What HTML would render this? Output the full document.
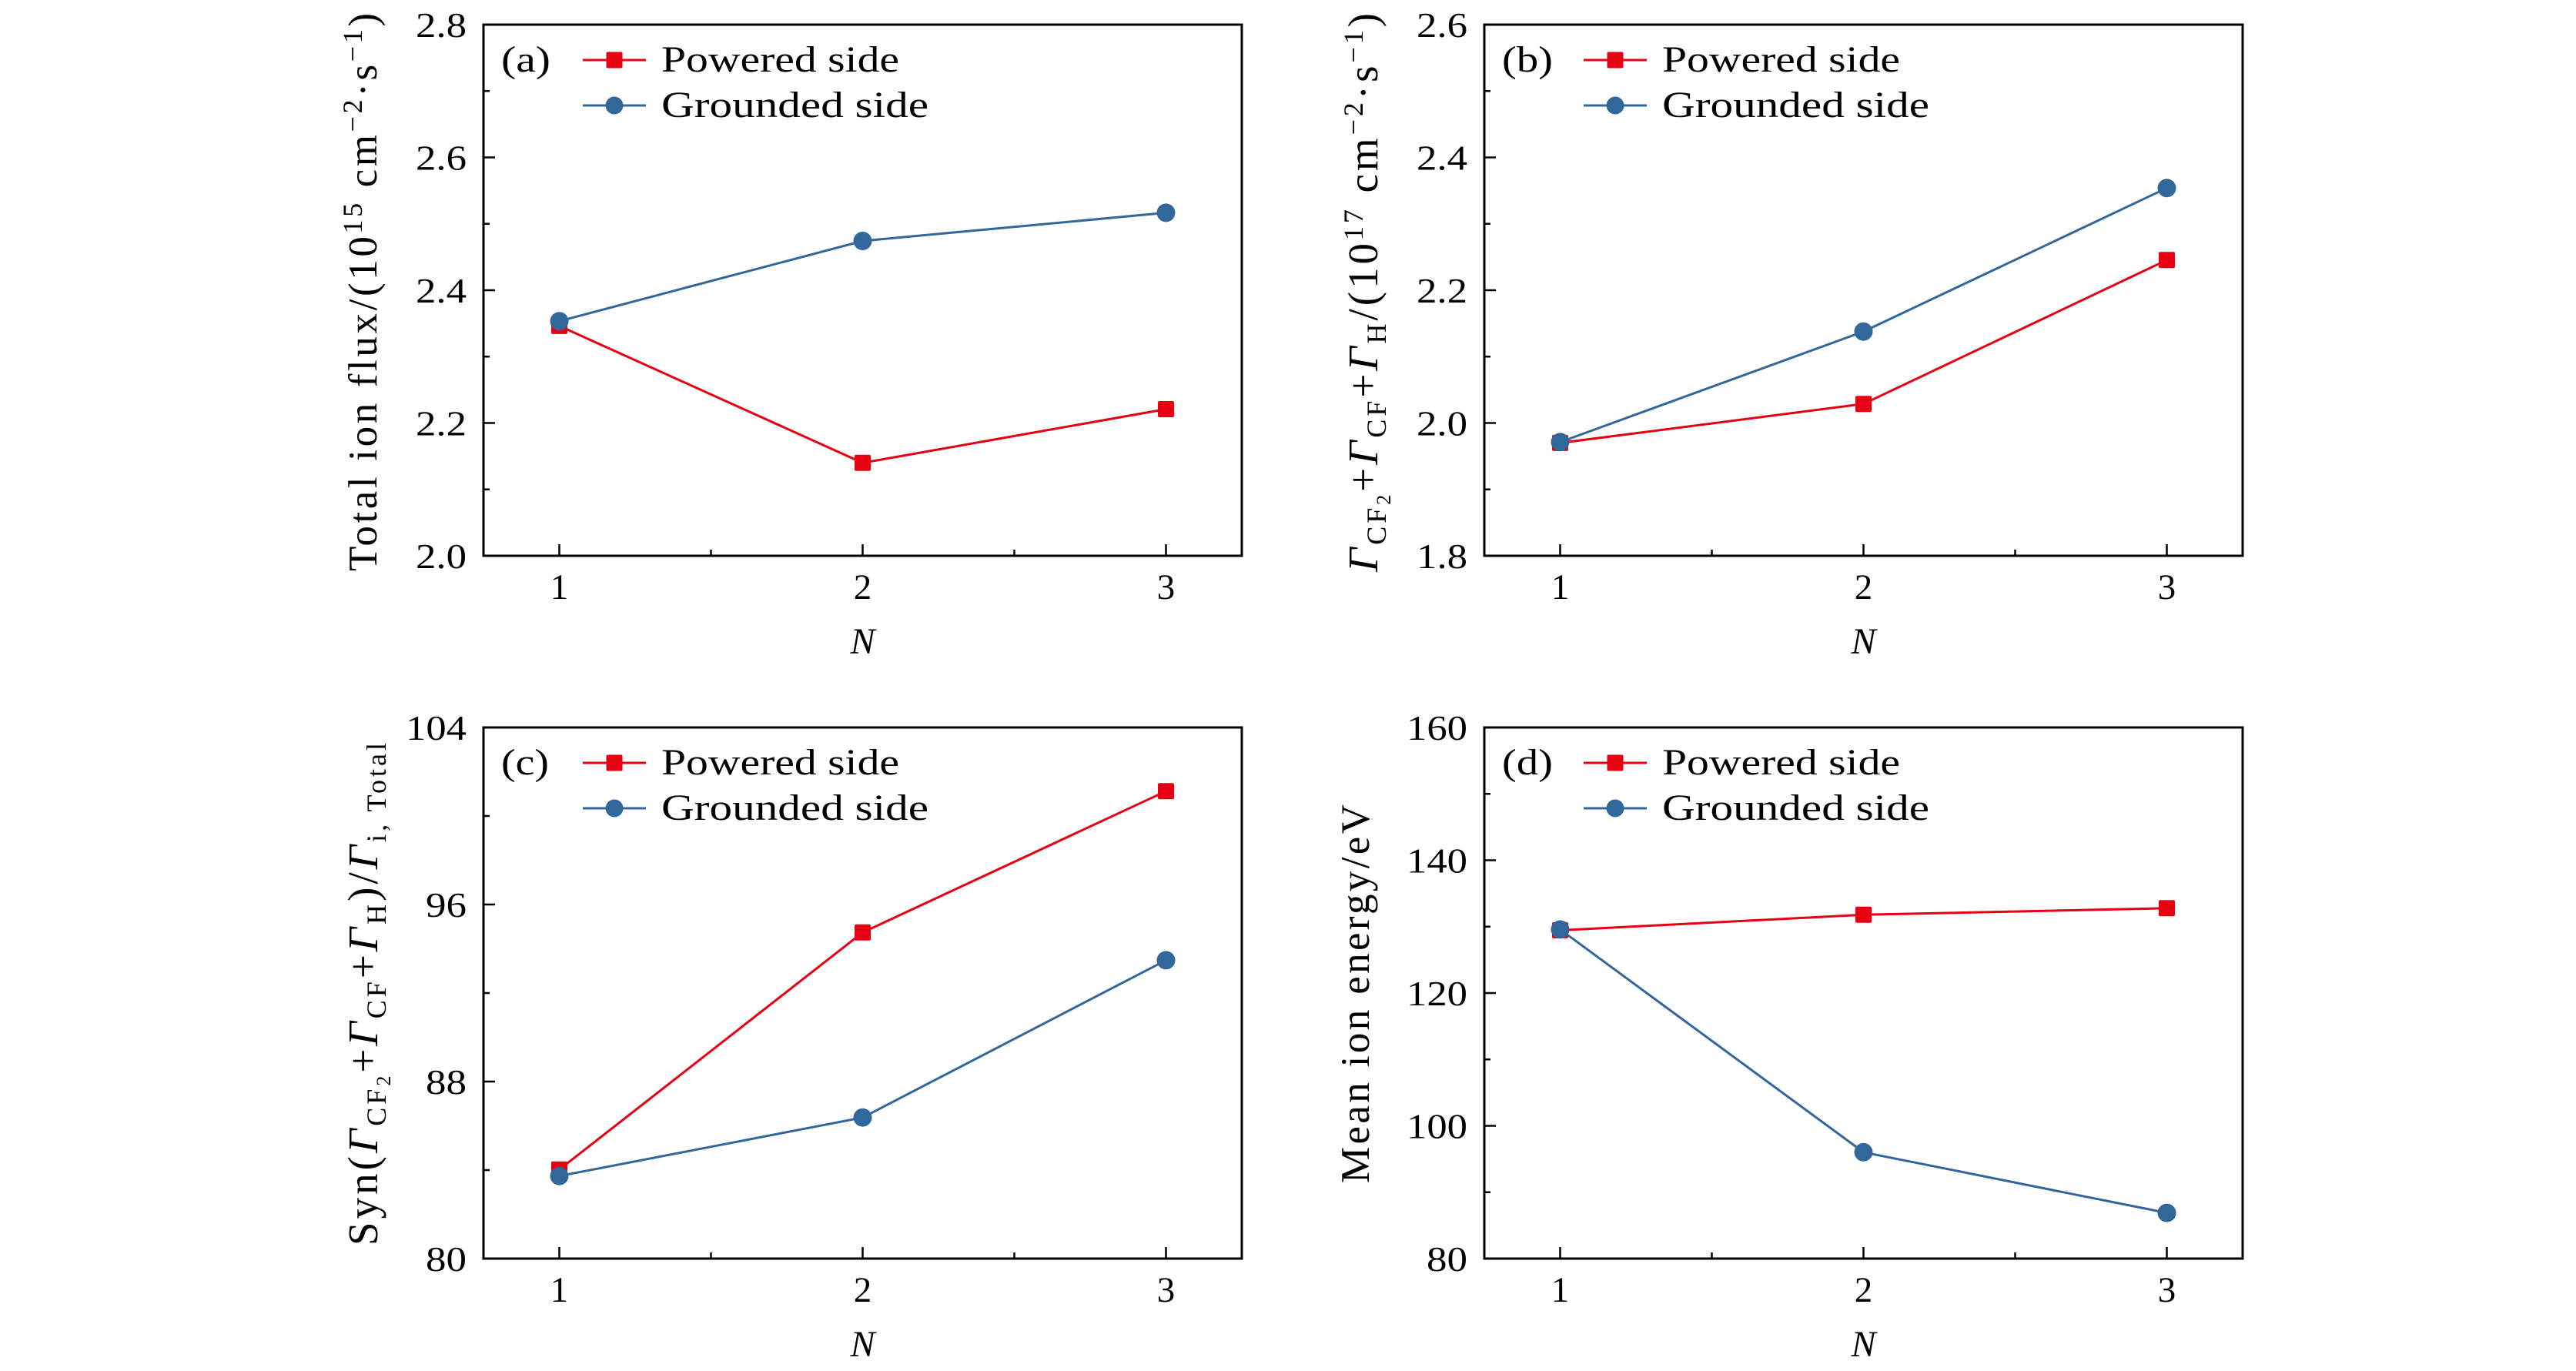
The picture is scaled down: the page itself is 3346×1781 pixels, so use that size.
<!DOCTYPE html>
<html><head><meta charset="utf-8"><style>
html,body{margin:0;padding:0;background:#fff;}
svg{display:block;}
text{font-family:"Liberation Serif","DejaVu Serif",serif;fill:#000;}
</style></head><body>
<svg xmlns="http://www.w3.org/2000/svg" width="3346" height="1781" viewBox="0 0 3346 1781">
<rect width="3346" height="1781" fill="#fff"/>

<!-- Panel (a) -->
<g transform="translate(628,32)">
<rect x="0" y="0" width="985" height="690" fill="none" stroke="#000" stroke-width="3"/>
<path d="M98.5 690V675M492.5 690V675M886.5 690V675M295.5 690V682M689.5 690V682M0 172.5H15M0 345H15M0 517.5H15M0 86.25H8M0 258.75H8M0 431.25H8M0 603.75H8" stroke="#000" stroke-width="2.5" fill="none"/>
<g font-size="46" text-anchor="end">
<text x="-22" y="16" textLength="66" lengthAdjust="spacingAndGlyphs">2.8</text>
<text x="-22" y="188.5" textLength="66" lengthAdjust="spacingAndGlyphs">2.6</text>
<text x="-22" y="361" textLength="66" lengthAdjust="spacingAndGlyphs">2.4</text>
<text x="-22" y="533.5" textLength="66" lengthAdjust="spacingAndGlyphs">2.2</text>
<text x="-22" y="706" textLength="66" lengthAdjust="spacingAndGlyphs">2.0</text>
</g>
<g font-size="47" text-anchor="middle">
<text x="98.5" y="746">1</text><text x="492.5" y="746">2</text><text x="886.5" y="746">3</text>
</g>
<text x="492.5" y="817" font-size="48" font-style="italic" text-anchor="middle">N</text>
<text transform="translate(-139,347.5) rotate(-90)" text-anchor="middle" font-size="53" textLength="725" lengthAdjust="spacing">Total ion flux/(10<tspan dy="-19" font-size="36">15</tspan><tspan dy="19"> cm</tspan><tspan dy="-19" font-size="36">−2</tspan><tspan dy="19">·s</tspan><tspan dy="-19" font-size="36">−1</tspan><tspan dy="19">)</tspan></text>
<text x="23" y="61" font-size="48" textLength="64" lengthAdjust="spacingAndGlyphs">(a)</text>
<line x1="129" y1="46" x2="211" y2="46" stroke="#e60012" stroke-width="3"/>
<rect x="159.5" y="35.5" width="21" height="21" rx="2" fill="#e60012"/>
<line x1="129" y1="105" x2="211" y2="105" stroke="#32679b" stroke-width="3"/>
<circle cx="170" cy="105" r="11.5" fill="#32679b"/>
<text x="231" y="61" font-size="48" textLength="309" lengthAdjust="spacingAndGlyphs">Powered side</text>
<text x="231" y="120" font-size="48" textLength="347" lengthAdjust="spacingAndGlyphs">Grounded side</text>
<polyline points="98.5,391.4 492.5,569.3 886.5,499.5" fill="none" stroke="#e60012" stroke-width="3"/>
<g fill="#e60012"><rect x="88" y="380.9" width="21" height="21" rx="2"/><rect x="482" y="558.8" width="21" height="21" rx="2"/><rect x="876" y="489" width="21" height="21" rx="2"/></g>
<polyline points="98.5,385.2 492.5,281 886.5,244.4" fill="none" stroke="#32679b" stroke-width="3"/>
<g fill="#32679b"><circle cx="98.5" cy="385.2" r="12"/><circle cx="492.5" cy="281" r="12"/><circle cx="886.5" cy="244.4" r="12"/></g>
</g>

<!-- Panel (b) -->
<g transform="translate(1928,32)">
<rect x="0" y="0" width="985" height="690" fill="none" stroke="#000" stroke-width="3"/>
<path d="M98.5 690V675M492.5 690V675M886.5 690V675M295.5 690V682M689.5 690V682M0 172.5H15M0 345H15M0 517.5H15M0 86.25H8M0 258.75H8M0 431.25H8M0 603.75H8" stroke="#000" stroke-width="2.5" fill="none"/>
<g font-size="46" text-anchor="end">
<text x="-22" y="16" textLength="66" lengthAdjust="spacingAndGlyphs">2.6</text>
<text x="-22" y="188.5" textLength="66" lengthAdjust="spacingAndGlyphs">2.4</text>
<text x="-22" y="361" textLength="66" lengthAdjust="spacingAndGlyphs">2.2</text>
<text x="-22" y="533.5" textLength="66" lengthAdjust="spacingAndGlyphs">2.0</text>
<text x="-22" y="706" textLength="66" lengthAdjust="spacingAndGlyphs">1.8</text>
</g>
<g font-size="47" text-anchor="middle">
<text x="98.5" y="746">1</text><text x="492.5" y="746">2</text><text x="886.5" y="746">3</text>
</g>
<text x="492.5" y="817" font-size="48" font-style="italic" text-anchor="middle">N</text>
<text transform="translate(-139,348) rotate(-90)" text-anchor="middle" font-size="55" textLength="726" lengthAdjust="spacing"><tspan font-style="italic">Γ</tspan><tspan dy="11" font-size="36">CF</tspan><tspan dy="6" font-size="26">2</tspan><tspan dy="-17">+</tspan><tspan font-style="italic">Γ</tspan><tspan dy="11" font-size="36">CF</tspan><tspan dy="-11">+</tspan><tspan font-style="italic">Γ</tspan><tspan dy="11" font-size="36">H</tspan><tspan dy="-11">/(10</tspan><tspan dy="-19" font-size="36">17</tspan><tspan dy="19"> cm</tspan><tspan dy="-19" font-size="36">−2</tspan><tspan dy="19">·s</tspan><tspan dy="-19" font-size="36">−1</tspan><tspan dy="19">)</tspan></text>
<text x="23" y="61" font-size="48" textLength="66" lengthAdjust="spacingAndGlyphs">(b)</text>
<line x1="129" y1="46" x2="211" y2="46" stroke="#e60012" stroke-width="3"/>
<rect x="159.5" y="35.5" width="21" height="21" rx="2" fill="#e60012"/>
<line x1="129" y1="105" x2="211" y2="105" stroke="#32679b" stroke-width="3"/>
<circle cx="170" cy="105" r="11.5" fill="#32679b"/>
<text x="231" y="61" font-size="48" textLength="309" lengthAdjust="spacingAndGlyphs">Powered side</text>
<text x="231" y="120" font-size="48" textLength="347" lengthAdjust="spacingAndGlyphs">Grounded side</text>
<polyline points="98.5,543.4 492.5,492.7 886.5,305.8" fill="none" stroke="#e60012" stroke-width="3"/>
<g fill="#e60012"><rect x="88" y="532.9" width="21" height="21" rx="2"/><rect x="482" y="482.2" width="21" height="21" rx="2"/><rect x="876" y="295.3" width="21" height="21" rx="2"/></g>
<polyline points="98.5,542.3 492.5,398.7 886.5,212.3" fill="none" stroke="#32679b" stroke-width="3"/>
<g fill="#32679b"><circle cx="98.5" cy="542.3" r="12"/><circle cx="492.5" cy="398.7" r="12"/><circle cx="886.5" cy="212.3" r="12"/></g>
</g>

<!-- Panel (c) -->
<g transform="translate(628,945)">
<rect x="0" y="0" width="985" height="690" fill="none" stroke="#000" stroke-width="3"/>
<path d="M98.5 690V675M492.5 690V675M886.5 690V675M295.5 690V682M689.5 690V682M0 230H15M0 460H15M0 115H8M0 345H8M0 575H8" stroke="#000" stroke-width="2.5" fill="none"/>
<g font-size="46" text-anchor="end">
<text x="-22" y="16" textLength="79" lengthAdjust="spacingAndGlyphs">104</text>
<text x="-22" y="246" textLength="53" lengthAdjust="spacingAndGlyphs">96</text>
<text x="-22" y="476" textLength="53" lengthAdjust="spacingAndGlyphs">88</text>
<text x="-22" y="706" textLength="53" lengthAdjust="spacingAndGlyphs">80</text>
</g>
<g font-size="47" text-anchor="middle">
<text x="98.5" y="746">1</text><text x="492.5" y="746">2</text><text x="886.5" y="746">3</text>
</g>
<text x="492.5" y="817" font-size="48" font-style="italic" text-anchor="middle">N</text>
<text transform="translate(-138,346.5) rotate(-90)" text-anchor="middle" font-size="55" textLength="653" lengthAdjust="spacing">Syn(<tspan font-style="italic">Γ</tspan><tspan dy="11" font-size="36">CF</tspan><tspan dy="6" font-size="26">2</tspan><tspan dy="-17">+</tspan><tspan font-style="italic">Γ</tspan><tspan dy="11" font-size="36">CF</tspan><tspan dy="-11">+</tspan><tspan font-style="italic">Γ</tspan><tspan dy="11" font-size="36">H</tspan><tspan dy="-11">)/</tspan><tspan font-style="italic">Γ</tspan><tspan dy="11" font-size="36">i, Total</tspan></text>
<text x="23" y="61" font-size="48" textLength="62" lengthAdjust="spacingAndGlyphs">(c)</text>
<line x1="129" y1="46" x2="211" y2="46" stroke="#e60012" stroke-width="3"/>
<rect x="159.5" y="35.5" width="21" height="21" rx="2" fill="#e60012"/>
<line x1="129" y1="105" x2="211" y2="105" stroke="#32679b" stroke-width="3"/>
<circle cx="170" cy="105" r="11.5" fill="#32679b"/>
<text x="231" y="61" font-size="48" textLength="309" lengthAdjust="spacingAndGlyphs">Powered side</text>
<text x="231" y="120" font-size="48" textLength="347" lengthAdjust="spacingAndGlyphs">Grounded side</text>
<polyline points="98.5,574.3 492.5,266.3 886.5,82.8" fill="none" stroke="#e60012" stroke-width="3"/>
<g fill="#e60012"><rect x="88" y="563.8" width="21" height="21" rx="2"/><rect x="482" y="255.8" width="21" height="21" rx="2"/><rect x="876" y="72.3" width="21" height="21" rx="2"/></g>
<polyline points="98.5,582.7 492.5,506.7 886.5,302.4" fill="none" stroke="#32679b" stroke-width="3"/>
<g fill="#32679b"><circle cx="98.5" cy="582.7" r="12"/><circle cx="492.5" cy="506.7" r="12"/><circle cx="886.5" cy="302.4" r="12"/></g>
</g>

<!-- Panel (d) -->
<g transform="translate(1928,945)">
<rect x="0" y="0" width="985" height="690" fill="none" stroke="#000" stroke-width="3"/>
<path d="M98.5 690V675M492.5 690V675M886.5 690V675M295.5 690V682M689.5 690V682M0 172.5H15M0 345H15M0 517.5H15M0 86.25H8M0 258.75H8M0 431.25H8M0 603.75H8" stroke="#000" stroke-width="2.5" fill="none"/>
<g font-size="46" text-anchor="end">
<text x="-22" y="16" textLength="79" lengthAdjust="spacingAndGlyphs">160</text>
<text x="-22" y="188.5" textLength="79" lengthAdjust="spacingAndGlyphs">140</text>
<text x="-22" y="361" textLength="79" lengthAdjust="spacingAndGlyphs">120</text>
<text x="-22" y="533.5" textLength="79" lengthAdjust="spacingAndGlyphs">100</text>
<text x="-22" y="706" textLength="53" lengthAdjust="spacingAndGlyphs">80</text>
</g>
<g font-size="47" text-anchor="middle">
<text x="98.5" y="746">1</text><text x="492.5" y="746">2</text><text x="886.5" y="746">3</text>
</g>
<text x="492.5" y="817" font-size="48" font-style="italic" text-anchor="middle">N</text>
<text transform="translate(-150,346) rotate(-90)" text-anchor="middle" font-size="53" textLength="492" lengthAdjust="spacing">Mean ion energy/eV</text>
<text x="23" y="61" font-size="48" textLength="66" lengthAdjust="spacingAndGlyphs">(d)</text>
<line x1="129" y1="46" x2="211" y2="46" stroke="#e60012" stroke-width="3"/>
<rect x="159.5" y="35.5" width="21" height="21" rx="2" fill="#e60012"/>
<line x1="129" y1="105" x2="211" y2="105" stroke="#32679b" stroke-width="3"/>
<circle cx="170" cy="105" r="11.5" fill="#32679b"/>
<text x="231" y="61" font-size="48" textLength="309" lengthAdjust="spacingAndGlyphs">Powered side</text>
<text x="231" y="120" font-size="48" textLength="347" lengthAdjust="spacingAndGlyphs">Grounded side</text>
<polyline points="98.5,263.5 492.5,243.3 886.5,234.8" fill="none" stroke="#e60012" stroke-width="3"/>
<g fill="#e60012"><rect x="88" y="253" width="21" height="21" rx="2"/><rect x="482" y="232.8" width="21" height="21" rx="2"/><rect x="876" y="224.3" width="21" height="21" rx="2"/></g>
<polyline points="98.5,262.4 492.5,551.8 886.5,630.6" fill="none" stroke="#32679b" stroke-width="3"/>
<g fill="#32679b"><circle cx="98.5" cy="262.4" r="12"/><circle cx="492.5" cy="551.8" r="12"/><circle cx="886.5" cy="630.6" r="12"/></g>
</g>
</svg>
</body></html>
